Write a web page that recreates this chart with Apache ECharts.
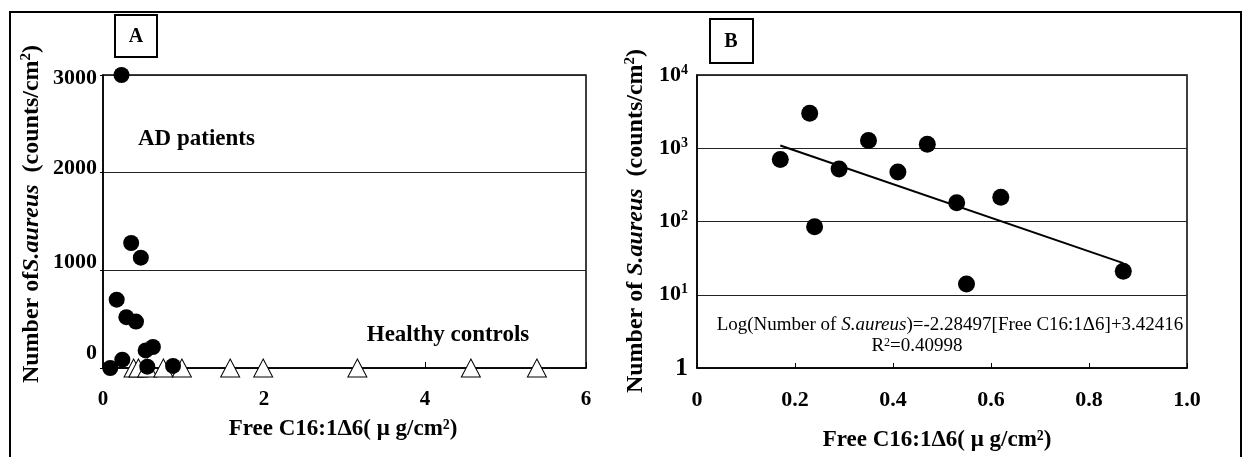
<!DOCTYPE html>
<html><head><meta charset="utf-8">
<script src="https://cdn.jsdelivr.net/npm/echarts@6/dist/echarts.min.js"></script>
<style>html,body{margin:0;padding:0;background:#fff}#c{width:1243px;height:457px}</style>
</head><body><div id="c"></div>
<script>
// AD patients: free C16:1Δ6 (µg/cm²) vs number of S. aureus (counts/cm²)
const adFree  = [0.17, 0.23, 0.24, 0.29, 0.35, 0.41, 0.47, 0.53, 0.55, 0.62, 0.87];
const adCount = [700, 3000, 85, 520, 1280, 475, 1130, 180, 14, 215, 21];
// AD patient with ~0 counts (panel A only; cannot be shown on log scale)
const adZeroFree  = [0.09];
const adZeroCount = [0];
// Healthy controls (counts ≈ 0)
const hcFree  = [0.38, 0.44, 0.55, 0.75, 0.98, 1.58, 1.99, 3.16, 4.57, 5.39];
const hcCount = [0, 0, 0, 0, 0, 0, 0, 0, 0, 0];
// regression line end points (panel B)
const fitFree  = [0.17, 0.87];
const fitCount = [1090, 27];
// axis ticks
const aXTicks = [0, 2, 4, 6];
const aYTicks = [0, 1000, 2000, 3000];
const bXTicks = [0, 0.2, 0.4, 0.6, 0.8, 1.0];
const bYTicks = [1, 10, 100, 1000, 10000];

const F = 'Liberation Serif, Times New Roman, serif';
const pairs = (xs, ys) => xs.map((x, i) => [x, ys[i]]);

const chart = echarts.init(document.getElementById('c'), null, {renderer: 'canvas'});

const aYRich = {
  a0:    {fontFamily: F, fontWeight: 'bold', fontSize: 22, color: '#000', padding: [0, 0, 30, 0]},
  a1000: {fontFamily: F, fontWeight: 'bold', fontSize: 22, color: '#000', padding: [0, 0, 16, 0]},
  a2000: {fontFamily: F, fontWeight: 'bold', fontSize: 22, color: '#000', padding: [0, 0, 8, 0]},
  a3000: {fontFamily: F, fontWeight: 'bold', fontSize: 22, color: '#000', padding: [6, 0, 0, 0]}
};

const titleRich = {
  n: {fontFamily: F, fontWeight: 'bold', fontSize: 24, color: '#000', lineHeight: 27},
  i: {fontFamily: F, fontWeight: 'bold', fontStyle: 'italic', fontSize: 24, color: '#000', lineHeight: 27},
  s: {fontFamily: F, fontWeight: 'bold', fontSize: 15, color: '#000', lineHeight: 15, verticalAlign: 'top'}
};

const eqRich = {
  n: {fontFamily: F, fontSize: 19, color: '#000'},
  i: {fontFamily: F, fontStyle: 'italic', fontSize: 19, color: '#000'},
  s: {fontFamily: F, fontSize: 12, color: '#000', verticalAlign: 'top', lineHeight: 12}
};

const xTitle = 'Free C16:1Δ6( μ g/cm²)';

chart.setOption({
  animation: false,
  backgroundColor: '#fff',
  grid: [
    {left: 103, top: 75, width: 483, height: 293, show: true, borderColor: '#000', borderWidth: 1.5},
    {left: 697, top: 75, width: 490, height: 293, show: true, borderColor: '#000', borderWidth: 1.5}
  ],
  xAxis: [
    {gridIndex: 0, type: 'value', min: aXTicks[0], max: aXTicks[aXTicks.length - 1], interval: 2,
     axisLine: {show: true, onZero: false, lineStyle: {color: '#000', width: 1.5}},
     axisTick: {show: true, inside: true, length: 6, lineStyle: {color: '#000'}},
     axisLabel: {fontFamily: F, fontWeight: 'bold', fontSize: 21, color: '#000', margin: 21, showMinLabel: true, showMaxLabel: true},
     splitLine: {show: false}},
    {gridIndex: 1, type: 'value', min: bXTicks[0], max: bXTicks[bXTicks.length - 1], interval: 0.2,
     axisLine: {show: true, onZero: false, lineStyle: {color: '#000', width: 1.5}},
     axisTick: {show: true, inside: true, length: 5, lineStyle: {color: '#000'}},
     axisLabel: {fontFamily: F, fontWeight: 'bold', fontSize: 22, color: '#000', margin: 21, showMinLabel: true, showMaxLabel: true,
                 formatter: v => v === 0 ? '0' : v.toFixed(1)},
     splitLine: {show: false}}
  ],
  yAxis: [
    {gridIndex: 0, type: 'value', min: aYTicks[0], max: aYTicks[aYTicks.length - 1], interval: 1000,
     axisLine: {show: true, onZero: false, lineStyle: {color: '#000', width: 1.5}},
     axisTick: {show: true, inside: false, length: 3, lineStyle: {color: '#000'}},
     axisLabel: {margin: 6, formatter: v => '{a' + v + '|' + v + '}', rich: aYRich},
     splitLine: {show: true, lineStyle: {color: '#222', width: 1}}},
    {gridIndex: 1, type: 'log', logBase: 10, min: bYTicks[0], max: bYTicks[bYTicks.length - 1],
     axisLine: {show: true, onZero: false, lineStyle: {color: '#000', width: 1.5}},
     axisTick: {show: false},
     axisLabel: {margin: 9, formatter: v => {
        if (v === 1) return '{one|1}';
        const e = Math.round(Math.log10(v));
        return '{b|10}{s|' + e + '}';
      },
      rich: {
        one: {fontFamily: F, fontWeight: 'bold', fontSize: 26, color: '#000'},
        b: {fontFamily: F, fontWeight: 'bold', fontSize: 22, color: '#000', lineHeight: 24},
        s: {fontFamily: F, fontWeight: 'bold', fontSize: 14, color: '#000', lineHeight: 14, verticalAlign: 'top'}
      }},
     splitLine: {show: true, lineStyle: {color: '#222', width: 1}}}
  ],
  series: [
    {type: 'scatter', xAxisIndex: 0, yAxisIndex: 0, clip: false, symbol: 'triangle', symbolSize: [19, 18],
     itemStyle: {color: '#fff', borderColor: '#000', borderWidth: 1, opacity: 1},
     data: pairs(hcFree, hcCount)},
    {type: 'scatter', xAxisIndex: 0, yAxisIndex: 0, clip: false, symbol: 'circle', symbolSize: 16,
     itemStyle: {color: '#000', opacity: 1},
     data: pairs(adFree, adCount).concat(pairs(adZeroFree, adZeroCount))},
    {type: 'scatter', xAxisIndex: 1, yAxisIndex: 1, clip: false, symbol: 'circle', symbolSize: 17,
     itemStyle: {color: '#000', opacity: 1},
     data: pairs(adFree, adCount)},
    {type: 'line', xAxisIndex: 1, yAxisIndex: 1, symbol: 'none', silent: true,
     lineStyle: {color: '#000', width: 2},
     data: pairs(fitFree, fitCount)}
  ],
  graphic: [
    {type: 'rect', shape: {x: 10, y: 12, width: 1231, height: 470}, style: {fill: 'none', stroke: '#000', lineWidth: 2}, silent: true},
    {type: 'rect', shape: {x: 115, y: 15, width: 42, height: 42}, style: {fill: '#fff', stroke: '#000', lineWidth: 2}},
    {type: 'text', x: 136, y: 37, style: {text: 'A', font: 'bold 20px ' + F, fill: '#000', align: 'center', verticalAlign: 'middle'}},
    {type: 'rect', shape: {x: 710, y: 19, width: 43, height: 44}, style: {fill: '#fff', stroke: '#000', lineWidth: 2}},
    {type: 'text', x: 731, y: 42, style: {text: 'B', font: 'bold 20px ' + F, fill: '#000', align: 'center', verticalAlign: 'middle'}},
    {type: 'text', x: 138, y: 139, style: {text: 'AD patients', font: 'bold 23px ' + F, fill: '#000', align: 'left', verticalAlign: 'middle'}},
    {type: 'text', x: 448, y: 335, style: {text: 'Healthy controls', font: 'bold 23px ' + F, fill: '#000', align: 'center', verticalAlign: 'middle'}},
    {type: 'text', x: 343, y: 429, style: {text: xTitle, font: 'bold 23px ' + F, fill: '#000', align: 'center', verticalAlign: 'middle'}},
    {type: 'text', x: 937, y: 440, style: {text: xTitle, font: 'bold 23px ' + F, fill: '#000', align: 'center', verticalAlign: 'middle'}},
    {type: 'text', x: 32, y: 214, rotation: Math.PI / 2,
     style: {text: '{n|Number of}{i|S.aureus}{n|  (counts/cm}{s|2}{n|)}', rich: titleRich, align: 'center', verticalAlign: 'middle'}},
    {type: 'text', x: 636, y: 221, rotation: Math.PI / 2,
     style: {text: '{n|Number of }{i|S.aureus}{n|  (counts/cm}{s|2}{n|)}', rich: titleRich, align: 'center', verticalAlign: 'middle'}},
    {type: 'text', x: 950, y: 325,
     style: {text: '{n|Log(Number of }{i|S.aureus}{n|)=-2.28497[Free C16:1Δ6]+3.42416}', rich: eqRich, align: 'center', verticalAlign: 'middle'}},
    {type: 'text', x: 917, y: 346,
     style: {text: '{n|R}{s|2}{n|=0.40998}', rich: eqRich, align: 'center', verticalAlign: 'middle'}}
  ]
});
</script>
</body></html>
